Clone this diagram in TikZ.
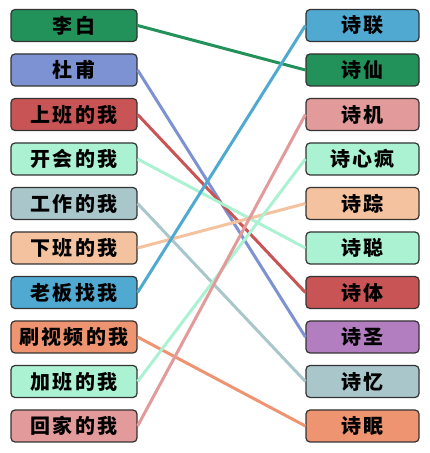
\documentclass[tikz,border=0pt]{standalone}
\usepackage{fontspec}
\newfontfamily\cjk{Noto Sans CJK SC}[LetterSpace=12]
\usepackage{tikz}

\begin{document}
\begin{tikzpicture}[x=1pt,y=1pt]

% Colori
\definecolor{colVerde}{HTML}{22915A}
\definecolor{colPervinca}{HTML}{7D92D2}
\definecolor{colRosso}{HTML}{C95455}
\definecolor{colMenta}{HTML}{AAF2D2}
\definecolor{colGrigio}{HTML}{A9C7CB}
\definecolor{colPesca}{HTML}{F4C29E}
\definecolor{colAzzurro}{HTML}{4FA9D1}
\definecolor{colArancio}{HTML}{EF9470}
\definecolor{colRosa}{HTML}{E29A9B}
\definecolor{colViola}{HTML}{B27EC0}
\definecolor{colBordo}{HTML}{333333}

\tikzset{
  casella/.style={draw=colBordo, line width=1.2pt, rounded corners=4pt,
    minimum height=32pt, inner sep=0pt, font=\cjk\bfseries\fontsize{20}{20}\selectfont},
  sinistra/.style={casella, minimum width=126pt},
  destra/.style={casella, minimum width=113pt},
  filo/.style={line width=3pt}
}

\useasboundingbox (0,0) rectangle (430,453);

% Colonna sinistra
\node[sinistra, fill=colVerde]    (li0) at (74,427.5) {李白};
\node[sinistra, fill=colPervinca] (li1) at (74,383)   {杜甫};
\node[sinistra, fill=colRosso]    (li2) at (74,338.5) {上班的我};
\node[sinistra, fill=colMenta]    (li3) at (74,294)   {开会的我};
\node[sinistra, fill=colGrigio]   (li4) at (74,249.5) {工作的我};
\node[sinistra, fill=colPesca]    (li5) at (74,205)   {下班的我};
\node[sinistra, fill=colAzzurro]  (li6) at (74,160.5) {老板找我};
\node[sinistra, fill=colArancio]  (li7) at (74,116)   {刷视频的我};
\node[sinistra, fill=colMenta]    (li8) at (74,71.5)  {加班的我};
\node[sinistra, fill=colRosa]     (li9) at (74,27)    {回家的我};

% Colonna destra
\node[destra, fill=colAzzurro]  (ri0) at (362.5,427.5) {诗联};
\node[destra, fill=colVerde]    (ri1) at (362.5,383)   {诗仙};
\node[destra, fill=colRosa]     (ri2) at (362.5,338.5) {诗机};
\node[destra, fill=colMenta]    (ri3) at (362.5,294)   {诗心疯};
\node[destra, fill=colPesca]    (ri4) at (362.5,249.5) {诗踪};
\node[destra, fill=colMenta]    (ri5) at (362.5,205)   {诗聪};
\node[destra, fill=colRosso]    (ri6) at (362.5,160.5) {诗体};
\node[destra, fill=colViola]    (ri7) at (362.5,116)   {诗圣};
\node[destra, fill=colGrigio]   (ri8) at (362.5,71.5)  {诗忆};
\node[destra, fill=colArancio]  (ri9) at (362.5,27)    {诗眠};

% Collegamenti
\draw[filo, colVerde]    (li0.east) -- (ri1.west);
\draw[filo, colPervinca] (li1.east) -- (ri7.west);
\draw[filo, colRosso]    (li2.east) -- (ri6.west);
\draw[filo, colMenta]    (li3.east) -- (ri5.west);
\draw[filo, colGrigio]   (li4.east) -- (ri8.west);
\draw[filo, colPesca]    (li5.east) -- (ri4.west);
\draw[filo, colAzzurro]  (li6.east) -- (ri0.west);
\draw[filo, colArancio]  (li7.east) -- (ri9.west);
\draw[filo, colMenta]    (li8.east) -- (ri3.west);
\draw[filo, colRosa]     (li9.east) -- (ri2.west);

\end{tikzpicture}
\end{document}
